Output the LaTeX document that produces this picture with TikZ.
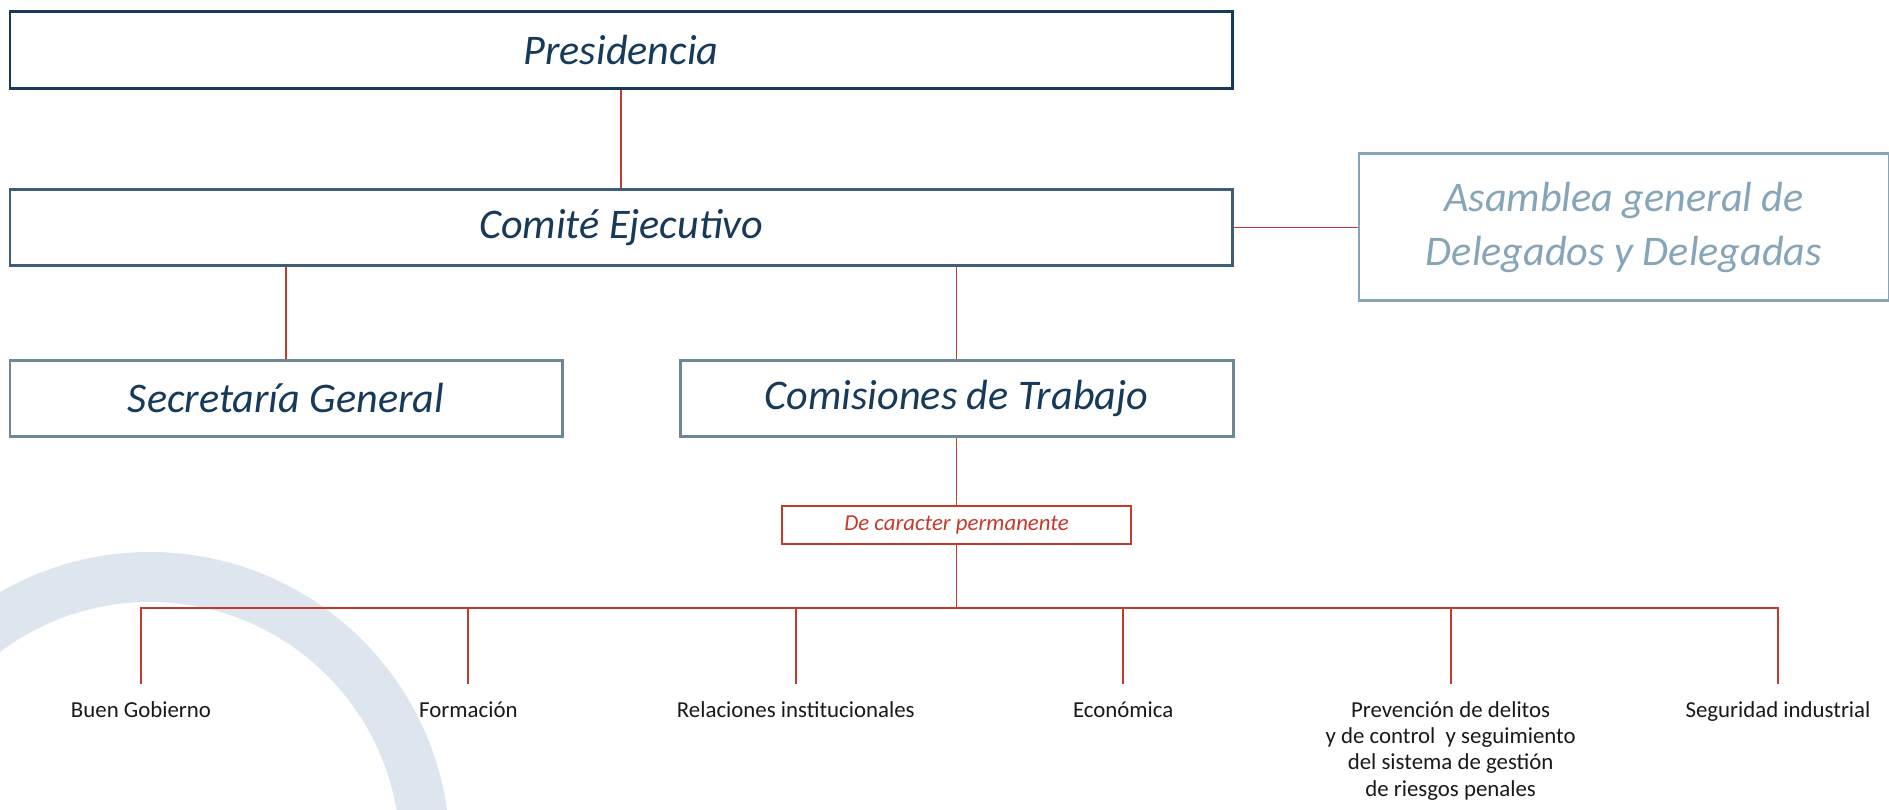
\documentclass[tikz,border=0pt]{standalone}
\usepackage{fontspec}
\setmainfont{Carlito}
\usetikzlibrary{
    positioning % placement relative to other nodes
}
\definecolor{navy}{HTML}{173A5A}
\definecolor{slate}{HTML}{3E5E77}
\definecolor{greyblue}{HTML}{6E8797}
\definecolor{steel}{HTML}{86A5B8}
\definecolor{rojo}{HTML}{C23B2C}
\definecolor{halo}{HTML}{DDE6EE}
\tikzset{
  % Style for the boxes of the governing bodies
  organo/.style={
    rectangle, draw, line width=1.7pt, fill=white, text=navy,
    font=\fontsize{24}{31}\selectfont\itshape,
    minimum height=1.53cm, inner sep=0pt
  },
  % Style for the red joining lines
  enlace/.style={
    draw=rojo, line width=1.1pt
  },
  % Style for the permanent commissions
  comision/.style={
    text=black!90, font=\fontsize{13}{15}\selectfont, align=center,
    anchor=north, inner xsep=0pt, inner ysep=0.34cm
  }
}
\begin{document}
\begin{tikzpicture}[node distance=1.96cm and 2.48cm]
    \useasboundingbox (0,0) rectangle (37.78,16.2);
    % background arc
    \begin{scope}
        \clip (0,0) rectangle (37.78,16.2);
        \draw[halo, line width=1cm] (3.0,-0.84) circle (5.5cm);
    \end{scope}

    \node[organo, draw=navy, minimum width=24.44cm] (pres) at (12.42,15.2) {Presidencia};
    \node[organo, draw=slate, minimum width=24.44cm, below=of pres] (comite) {Comité Ejecutivo};
    \node[organo, draw=steel, text=steel, align=center, minimum width=10.6cm,
          minimum height=2.94cm, right=of comite] (asamblea) {Asamblea general de\\Delegados y Delegadas};

    \node[organo, draw=greyblue, minimum width=11.04cm] (secre) at (5.72,8.23) {Secretaría General};
    \node[organo, draw=greyblue, minimum width=11.06cm] (comis) at (19.13,8.23) {Comisiones de Trabajo};
    \node[rectangle, draw=rojo, line width=1pt, text=rojo, font=\fontsize{13}{15}\selectfont\itshape,
          minimum width=6.98cm, minimum height=0.76cm, inner sep=0pt, below=1.34cm of comis] (perm) {De caracter permanente};

    \coordinate (bar) at (0,4.04);
    \foreach \name/\x/\txt in {
        b1/2.82/Buen Gobierno,
        b2/9.368/Formación,
        b3/15.916/Relaciones institucionales,
        b4/22.464/Económica,
        b5/29.012/Prevención de delitos\\y de control~ y seguimiento\\del sistema de gestión\\de riesgos penales,
        b6/35.56/Seguridad industrial}
        \node[comision] (\name) at (\x,2.52) {\txt};

    \draw[enlace] (pres) -- (comite);
    \draw[enlace] (comite) -- (asamblea);
    \draw[enlace] (secre.north |- comite.south) -- (secre.north);
    \draw[enlace] (comis.north |- comite.south) -- (comis.north);
    \draw[enlace] (comis) -- (perm);
    \draw[enlace] (perm) -- (perm |- bar);
    \draw[enlace] (b1.north) |- (b6.north |- bar) -- (b6.north);
    \foreach \i in {2,...,5}
        \draw[enlace] (b\i.north) -- (b\i.north |- bar);
\end{tikzpicture}
\end{document}
